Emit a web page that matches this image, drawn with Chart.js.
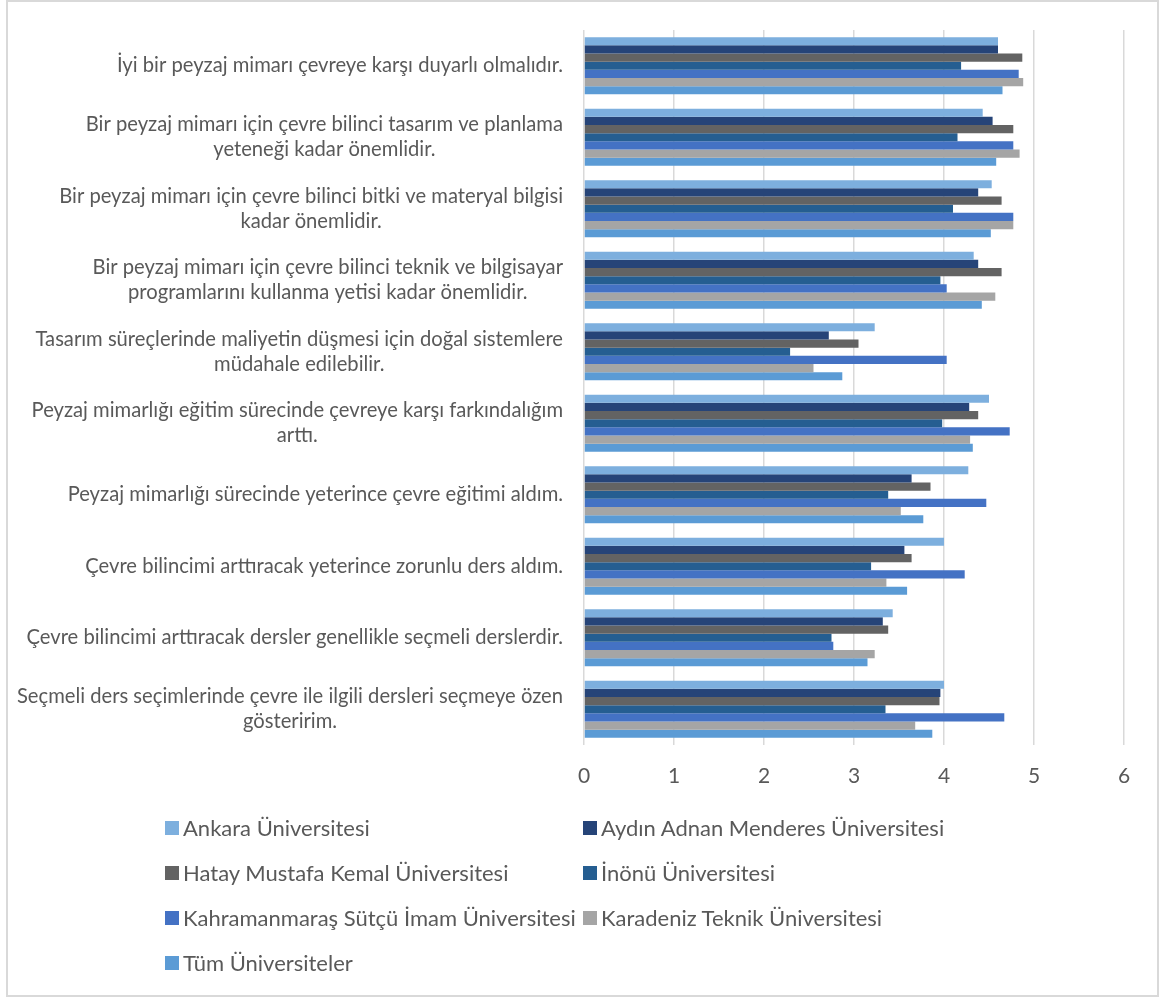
<!DOCTYPE html>
<html lang="tr">
<head>
<meta charset="utf-8">
<title>Çevre bilinci anketi</title>
<script src="https://cdn.jsdelivr.net/npm/chart.js@4/dist/chart.umd.min.js"></script>
<style>
  html, body { margin: 0; padding: 0; background: #ffffff; }
  #wrap { position: relative; width: 1161px; height: 998px; overflow: hidden; }
  #chart { position: absolute; left: 0; top: 0; }
  #frame {
    position: absolute; left: 6px; top: 0; width: 1149px; height: 993px;
    border: 2px solid #D9D9D9; pointer-events: none;
  }
  #legend {
    position: absolute; left: 165px; top: 805px;
    display: grid; grid-template-columns: 418px 420px; grid-auto-rows: 45px;
    font-family: Lato, "Noto Sans", sans-serif; font-size: 22px; color: #595959;
  }
  #legend .item { display: flex; align-items: center; white-space: nowrap; }
  #legend .box { width: 14px; height: 14px; margin-right: 4px; flex: none; }
</style>
</head>
<body>
<div id="wrap">
  <canvas id="chart" width="1161" height="998"></canvas>
  <div id="legend"></div>
  <div id="frame"></div>
</div>
<script>
// Statements (each entry is drawn as a one- or two-line axis label)
const statements = [
  ["İyi bir peyzaj mimarı çevreye karşı duyarlı olmalıdır."],
  ["Bir peyzaj mimarı için çevre bilinci tasarım ve planlama", "yeteneği kadar önemlidir."],
  ["Bir peyzaj mimarı için çevre bilinci bitki ve materyal bilgisi", "kadar önemlidir."],
  ["Bir peyzaj mimarı için çevre bilinci teknik ve bilgisayar", "programlarını kullanma yetisi kadar önemlidir."],
  ["Tasarım süreçlerinde maliyetin düşmesi için doğal sistemlere", "müdahale edilebilir."],
  ["Peyzaj mimarlığı eğitim sürecinde çevreye karşı farkındalığım", "arttı."],
  ["Peyzaj mimarlığı sürecinde yeterince çevre eğitimi aldım."],
  ["Çevre bilincimi arttıracak yeterince zorunlu ders aldım."],
  ["Çevre bilincimi arttıracak dersler genellikle seçmeli derslerdir."],
  ["Seçmeli ders seçimlerinde çevre ile ilgili dersleri seçmeye özen", "gösteririm."]
];

// Mean scores per university, one value per statement
const ankara      = [4.60, 4.43, 4.53, 4.33, 3.23, 4.50, 4.27, 4.00, 3.43, 4.00];
const aydin       = [4.60, 4.54, 4.38, 4.38, 2.72, 4.28, 3.64, 3.56, 3.32, 3.96];
const hatay       = [4.87, 4.77, 4.64, 4.64, 3.05, 4.38, 3.85, 3.64, 3.38, 3.95];
const inonu       = [4.19, 4.15, 4.10, 3.96, 2.29, 3.98, 3.38, 3.19, 2.75, 3.35];
const ksu         = [4.83, 4.77, 4.77, 4.03, 4.03, 4.73, 4.47, 4.23, 2.77, 4.67];
const ktu         = [4.88, 4.84, 4.77, 4.57, 2.55, 4.29, 3.52, 3.36, 3.23, 3.68];
const tumu        = [4.65, 4.58, 4.52, 4.42, 2.87, 4.32, 3.77, 3.59, 3.15, 3.87];

const seriesNames = [
  "Ankara Üniversitesi",
  "Aydın Adnan Menderes Üniversitesi",
  "Hatay Mustafa Kemal Üniversitesi",
  "İnönü Üniversitesi",
  "Kahramanmaraş Sütçü İmam Üniversitesi",
  "Karadeniz Teknik Üniversitesi",
  "Tüm Üniversiteler"
];
const seriesValues = [ankara, aydin, hatay, inonu, ksu, ktu, tumu];
const seriesColors = ["#7DAFDE", "#264478", "#636363", "#255E91", "#4472C4", "#A5A5A5", "#5B9BD5"];

// X axis range and step
const xMin = 0, xMax = 6, xStep = 1;

const TEXT = "#595959";
const GRID = "#D9D9D9";
const LABEL_FONT = '20.2px Lato, "Noto Sans", sans-serif';
const LABEL_LINE = 25;
const LABEL_RIGHT = 563;

// Draws the statement labels: lines of a label are centred on each other,
// and the block is right-aligned against the plot.
const statementLabels = {
  id: "statementLabels",
  afterDraw(chart) {
    const scale = chart.scales.y;
    const ctx = chart.ctx;
    ctx.save();
    ctx.font = LABEL_FONT;
    ctx.fillStyle = TEXT;
    ctx.textAlign = "center";
    ctx.textBaseline = "middle";
    statements.forEach((lines, i) => {
      const yc = scale.getPixelForTick(i);
      const w = Math.max(...lines.map(t => ctx.measureText(t).width));
      const xc = LABEL_RIGHT - w / 2;
      const y0 = yc - (lines.length - 1) * LABEL_LINE / 2;
      lines.forEach((t, k) => ctx.fillText(t, xc, y0 + k * LABEL_LINE));
    });
    ctx.restore();
  }
};

const chart = new Chart(document.getElementById("chart"), {
  type: "bar",
  data: {
    labels: statements,
    datasets: seriesNames.map((name, i) => ({
      label: name,
      data: seriesValues[i],
      backgroundColor: seriesColors[i],
      borderWidth: 0,
      categoryPercentage: 0.8,
      barPercentage: 1.0
    }))
  },
  options: {
    indexAxis: "y",
    responsive: false,
    animation: false,
    devicePixelRatio: 1,
    layout: { padding: { left: 10, right: 37, top: 30, bottom: 208 } },
    plugins: {
      legend: { display: false },
      tooltip: { enabled: false }
    },
    scales: {
      x: {
        min: xMin, max: xMax,
        ticks: {
          stepSize: xStep,
          color: TEXT,
          padding: 19,
          font: { family: 'Lato, "Noto Sans", sans-serif', size: 21 }
        },
        grid: { color: GRID, lineWidth: 1.5, drawTicks: false },
        border: { display: false },
        afterFit(scale) { scale.height = 45; }
      },
      y: {
        ticks: { display: false },
        grid: { display: false },
        border: { display: false },
        afterFit(scale) { scale.width = 574; }
      }
    }
  },
  plugins: [statementLabels]
});

// Legend laid out in two columns, built from the chart's datasets
const legendEl = document.getElementById("legend");
chart.data.datasets.forEach(ds => {
  const item = document.createElement("div");
  item.className = "item";
  const box = document.createElement("span");
  box.className = "box";
  box.style.background = ds.backgroundColor;
  const txt = document.createElement("span");
  txt.textContent = ds.label;
  item.appendChild(box);
  item.appendChild(txt);
  legendEl.appendChild(item);
});
</script>
</body>
</html>
